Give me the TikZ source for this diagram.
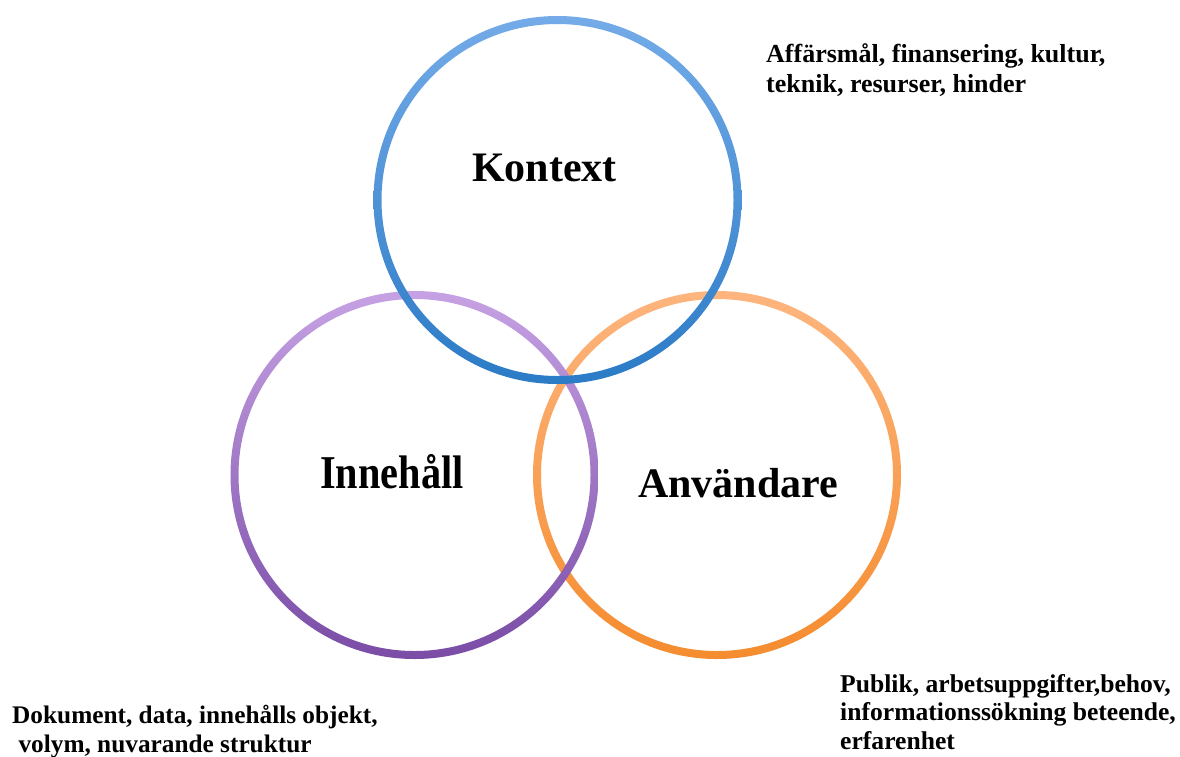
\documentclass[tikz,border=0pt]{standalone}
\usepackage{fontspec}
\setmainfont{Liberation Serif}
\definecolor{bluetop}{HTML}{74ABE8}
\definecolor{bluebot}{HTML}{2B7BC6}
\definecolor{purtop}{HTML}{C6A2E4}
\definecolor{purbot}{HTML}{7A4CA6}
\definecolor{orgtop}{HTML}{FDB57E}
\definecolor{orgbot}{HTML}{F58C2F}
\tikzset{
  x=1pt, y=-1pt,
  title/.style={font=\fontsize{42}{48}\selectfont\bfseries, inner sep=0pt, anchor=base west},
  note/.style={font=\fontsize{25.5}{30}\selectfont\bfseries, inner sep=0pt, anchor=base west, align=left},
}
\newcommand{\ring}[5]{% center x, center y, radius, topcolor, bottomcolor
  \shade[top color=#4, bottom color=#5, even odd rule]
    (#1,#2) circle[radius=#3+4] (#1,#2) circle[radius=#3-4];}
\begin{document}
\begin{tikzpicture}
\useasboundingbox (0,0) rectangle (1180,756);
\fill[white] (0,0) rectangle (1180,756);
% circles
\coordinate (cA) at (717,475);
\coordinate (cI) at (414.5,475);
\coordinate (cK) at (557.5,200);
\ring{717}{475}{180}{orgtop}{orgbot}
\ring{414.5}{475}{180}{purtop}{purbot}
\ring{557.5}{200}{180}{bluetop}{bluebot}
% titles
\node[title] (kontext) at (472,181) {Kontext};
\node[title, xscale=0.96, yscale=1.12] (innehall) at (320,488) {Innehåll};
\node[title] (anvandare) at (638,497) {Användare};
% notes (base anchor = last line)
\node[note, font=\fontsize{26}{30}\selectfont\bfseries] (nK) at (766,92) {Affärsmål, finansering, kultur,\\teknik, resurser, hinder};
\node[note, font=\fontsize{25.3}{29}\selectfont\bfseries] (nI) at (12,752) {Dokument, data, innehålls objekt,\\\ volym, nuvarande struktur};
\node[note, font=\fontsize{25.6}{28.5}\selectfont\bfseries] (nA) at (840,749) {Publik, arbetsuppgifter,behov,\\informationssökning beteende,\\erfarenhet};
\end{tikzpicture}
\end{document}
